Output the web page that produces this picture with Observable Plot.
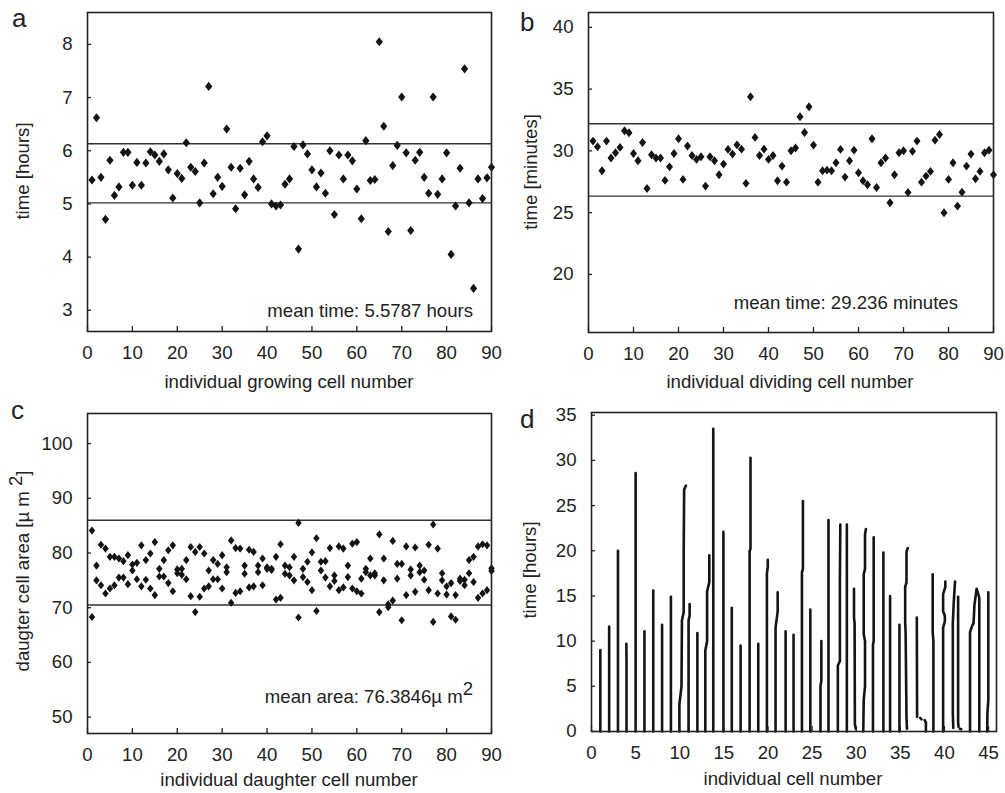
<!DOCTYPE html>
<html>
<head>
<meta charset="utf-8">
<script src="https://cdn.jsdelivr.net/npm/d3@7"></script>
<script src="https://cdn.jsdelivr.net/npm/@observablehq/plot@0.6"></script>
<style>
html, body { margin: 0; padding: 0; background: #fff; }
#root { position: relative; width: 1005px; height: 793px; overflow: hidden; font-family: "Liberation Sans", Arial, Helvetica, sans-serif; }
.panel { position: absolute; }
.panel svg { display: block; }
#overlay { position: absolute; left: 0; top: 0; pointer-events: none; }
</style>
</head>
<body>
<div id="root"></div>
<script>
// ---------------- DATA ----------------
// panel a: growth time per growing cell (hours), cells 1..90
const growingTimes = [
  5.45,6.62,5.50,4.71,5.82,5.16,5.32,5.97,5.97,5.35,
  5.78,5.35,5.77,5.98,5.92,5.80,5.94,5.64,5.11,5.57,
  5.48,6.15,5.69,5.61,5.02,5.77,7.21,5.19,5.50,5.33,
  6.41,5.69,4.91,5.67,5.17,5.80,5.47,5.31,6.17,6.28,
  5.00,4.96,4.98,5.37,5.47,6.08,4.15,6.11,5.94,5.64,
  5.32,5.58,5.20,6.00,4.80,5.92,5.47,5.92,5.81,5.28,
  4.72,6.19,5.44,5.46,8.05,6.46,4.48,5.72,6.10,7.01,
  5.96,4.50,5.82,5.97,5.50,5.20,7.01,5.18,5.47,5.96,
  4.05,4.96,5.67,7.54,5.02,3.41,5.47,5.10,5.49,5.69];
const growingLimits = [6.13, 5.02];

// panel b: division time per dividing cell (minutes), cells 1..90
const dividingTimes = [
  30.79,30.33,28.39,30.79,29.42,29.85,30.28,31.63,31.47,29.79,
  29.20,30.68,26.96,29.69,29.42,29.42,27.61,28.71,29.79,30.98,
  27.69,30.39,29.63,29.31,29.52,27.15,29.52,29.20,28.07,28.93,
  30.12,29.74,30.49,30.14,27.37,34.38,31.09,29.63,30.14,29.31,
  29.63,27.58,28.77,27.47,30.01,30.23,32.76,31.49,33.57,30.47,
  27.47,28.39,28.44,28.39,29.04,30.12,27.88,29.20,30.06,28.23,
  27.58,27.26,30.98,27.04,29.04,29.42,25.80,28.07,29.85,30.01,
  26.64,29.96,30.79,27.47,27.96,28.34,30.87,31.33,24.99,27.69,
  29.04,25.53,26.66,28.77,29.74,27.74,28.34,29.85,30.06,28.07];
const dividingLimits = [32.19, 26.34];

// panel c: two daughter cell areas (µm²) per division, 1..90
const daughterAreaFirst = [
  84.1,77.7,81.5,80.8,79.3,79.3,79.0,78.5,79.6,77.9,
  78.2,81.4,78.7,79.9,82.0,77.1,78.7,80.5,81.4,76.3,
  77.1,78.7,81.1,80.2,81.1,79.9,76.8,78.7,78.0,79.6,
  77.4,82.3,80.9,80.8,77.7,80.6,80.2,77.7,79.0,77.4,
  77.1,79.3,81.6,77.7,77.4,79.3,85.5,77.1,78.4,80.1,
  82.7,78.4,78.5,80.9,74.9,81.2,80.8,77.7,81.7,82.0,
  75.3,77.1,79.0,76.3,83.4,79.0,70.1,82.2,78.0,78.0,
  81.2,75.9,81.0,77.7,76.8,81.5,85.2,80.8,76.3,73.9,
  74.5,72.3,75.3,75.1,76.3,79.3,71.8,81.6,81.4,77.2];
const daughterAreaSecond = [
  68.3,75.0,74.1,72.6,73.5,74.1,75.5,75.5,74.3,76.8,
  75.2,73.9,75.1,73.5,72.3,75.7,75.7,74.5,73.0,77.0,
  76.0,75.2,72.1,69.2,72.0,73.5,73.9,75.2,75.2,73.5,
  76.5,70.9,72.7,73.0,76.2,73.7,73.9,76.5,74.1,77.1,
  76.9,71.5,71.8,76.2,75.9,75.0,68.2,75.6,74.7,73.2,
  69.4,76.8,75.5,73.9,75.9,73.2,73.7,75.6,73.5,73.0,
  72.6,76.5,75.9,75.9,69.2,75.0,70.6,71.3,75.3,67.7,
  72.3,77.0,72.9,76.5,75.1,73.2,67.4,72.6,75.0,72.4,
  68.4,67.8,74.9,74.1,78.7,74.7,81.2,72.6,73.2,76.7];
const areaLimits = [85.98, 70.49];

// panel d: lineage tracks, each a list of [cell position, time (hours)]
const cellTracks = [
  [[1,0],[1,9.0]],
  [[2,0],[2,11.6]],
  [[3,0],[3,20.0]],
  [[3.97,0],[3.97,7.5],[3.95,9.7]],
  [[5,0],[5,28.6]],
  [[6,0],[6,11.1]],
  [[7,0],[7,15.6]],
  [[8,0],[8,11.8]],
  [[9,0],[9,14.9]],
  [[9.96,0],[9.96,3.0],[10.2,5.0],[10.25,12.3],[10.45,13.2],[10.45,20],[10.5,26.8],[10.7,27.2]],
  [[11,0],[11,12.3],[11.12,12.8],[11.12,14.1]],
  [[12,0],[12,10.9]],
  [[12.9,0],[12.9,9.0],[13.1,10.0],[13.1,15.5],[13.35,16.5],[13.35,19.5]],
  [[13.8,0],[13.8,33.5]],
  [[14.95,0],[14.95,22.1]],
  [[15.9,0],[15.9,13.7]],
  [[16.9,0],[16.9,9.5]],
  [[17.92,0],[17.92,20],[18.02,20.2],[18.02,30.3]],
  [[18.9,0],[18.9,9.7]],
  [[19.88,0],[19.88,17.5],[19.98,18.2],[19.98,19.0]],
  [[20.86,0],[20.86,11.5],[21.1,13.3],[21.1,15.4]],
  [[22,0],[22,11.1]],
  [[22.9,0],[22.9,10.7]],
  [[23.85,0],[23.85,17.6],[23.96,18],[23.96,25.5]],
  [[24.8,0],[24.8,13.5]],
  [[25.95,0],[25.95,5],[26.05,5.6],[26.05,10.0]],
  [[26.86,0],[26.86,23.4]],
  [[27.92,0],[27.92,7.3],[28.15,7.8],[28.15,16.5],[28.2,22.9]],
  [[28.94,0],[28.94,22.9]],
  [[29.95,0.3],[29.85,0.8],[29.82,12.0],[29.75,12.6],[29.75,15.8]],
  [[30.8,0],[30.85,3.5],[31.0,5],[31.0,10],[30.85,10.8],[30.85,17.4],[31.0,18.0],[31.0,21.8],[31.1,22.4]],
  [[31.9,0],[31.9,9.6],[31.98,10],[31.98,21.5]],
  [[33.08,0],[33.08,19.8]],
  [[33.84,0],[33.84,15.0]],
  [[34.9,0],[34.9,11.8]],
  [[35.75,0.3],[35.7,1.5],[35.6,11],[35.55,12],[35.55,16],[35.7,16.5],[35.7,19.9],[35.85,20.3]],
  [[36.87,12.6],[36.9,1.6]],
  [[37.25,1.5],[37.4,1.35]],
  [[37.75,1.25],[37.9,1.0],[37.9,0]],
  [[38.75,0],[38.75,10],[38.67,11],[38.67,17.4]],
  [[39.85,0],[39.85,11.5],[40.05,12.2],[40.05,12.8],[39.85,13.3],[39.85,15.2],[40.1,16.0],[40.1,16.6]],
  [[41.0,0.4],[40.95,2],[40.95,12],[41.05,14.2],[41.2,16.6]],
  [[41.55,14.9],[41.55,1.0],[41.6,0.5]],
  [[41.75,0.3],[41.9,0.25]],
  [[42.9,0],[42.9,11.0],[43.1,11.6],[43.3,12.0],[43.4,14.0],[43.65,15.8],[43.95,14.8],[43.95,0]],
  [[44.85,0],[44.87,2.0],[44.97,3.5],[44.97,15.4]]
];

// tick labels
const ticks90 = [0,10,20,30,40,50,60,70,80,90];
const ticksA = [3,4,5,6,7,8];
const ticksB = [20,25,30,35,40];
const ticksC = [50,60,70,80,90,100];
const ticksDx = [0,5,10,15,20,25,30,35,40,45];
const ticksDy = [0,5,10,15,20,25,30,35];

// ---------------- RENDER ----------------
const FONT = '"Liberation Sans", Arial, Helvetica, sans-serif';
const INK = "#141414";
const root = document.getElementById("root");

const diamond = {
  draw(ctx, size) {
    const r = Math.sqrt(size / Math.PI);
    const h = r * 1.2, w = r * 0.95;
    ctx.moveTo(0, -h); ctx.lineTo(w, 0); ctx.lineTo(0, h); ctx.lineTo(-w, 0); ctx.closePath();
  }
};

function place(el, left, top) {
  const d = document.createElement("div");
  d.className = "panel";
  d.style.left = left + "px";
  d.style.top = top + "px";
  d.appendChild(el);
  root.appendChild(d);
}

function basePlot(opts, marks, xTicks, yTicks) {
  return Plot.plot({
    ...opts,
    style: { fontFamily: FONT, fontSize: "18.6px", color: "#222", background: "transparent", overflow: "visible" },
    marks: [
      ...marks,
      Plot.axisX({ ticks: xTicks, tickSize: -5, tickPadding: 19.5, label: null, strokeWidth: 1.3, tickFormat: d => String(d) }),
      Plot.axisY({ ticks: yTicks, tickSize: -4, tickPadding: 19, label: null, strokeWidth: 1.3, tickFormat: d => String(d) }),
      Plot.frame({ stroke: "#222", strokeWidth: 1.6 })
    ]
  });
}

const cells = growingTimes.map((_, i) => i + 1);

// panel a
place(basePlot(
  { width: 500, height: 400, marginLeft: 87, marginRight: 9, marginTop: 12, marginBottom: 69,
    x: { domain: [0, 90] }, y: { domain: [2.6, 8.6] } },
  [
    Plot.ruleY(growingLimits, { stroke: "#333", strokeWidth: 1.4 }),
    Plot.dot(growingTimes, { x: (d, i) => cells[i], y: d => d, symbol: diamond, r: 3.8, fill: INK, stroke: "none" })
  ], ticks90, ticksA), 0, 0);

// panel b
place(basePlot(
  { width: 505, height: 400, marginLeft: 88, marginRight: 12, marginTop: 12, marginBottom: 68,
    x: { domain: [0, 90] }, y: { domain: [15.3, 41.2] } },
  [
    Plot.ruleY(dividingLimits, { stroke: "#333", strokeWidth: 1.4 }),
    Plot.dot(dividingTimes, { x: (d, i) => cells[i], y: d => d, symbol: diamond, r: 3.7, fill: INK, stroke: "none" })
  ], ticks90, ticksB), 500, 0);

// panel c
const areaRows = [
  ...daughterAreaFirst.map((v, i) => ({ cell: i + 1, area: v })),
  ...daughterAreaSecond.map((v, i) => ({ cell: i + 1, area: v }))
];
place(basePlot(
  { width: 500, height: 393, marginLeft: 87, marginRight: 9, marginTop: 13, marginBottom: 60,
    x: { domain: [0, 90] }, y: { domain: [47, 105.5] } },
  [
    Plot.ruleY(areaLimits, { stroke: "#333", strokeWidth: 1.4 }),
    Plot.dot(areaRows, { x: "cell", y: "area", symbol: diamond, r: 3.4, fill: INK, stroke: "none" })
  ], ticks90, ticksC), 0, 400);

// panel d
const trackRows = cellTracks.flatMap((tr, k) => tr.map(([x, t]) => ({ track: k, x, t })));
place(basePlot(
  { width: 505, height: 393, marginLeft: 91, marginRight: 9, marginTop: 12, marginBottom: 62,
    x: { domain: [0, 45.9] }, y: { domain: [0, 35.3] } },
  [
    Plot.line(trackRows, { x: "x", y: "t", z: "track", stroke: INK, strokeWidth: 2.6, strokeLinejoin: "round" })
  ], ticksDx, ticksDy), 500, 400);

// overlay text
const svg = d3.create("svg").attr("id", "overlay").attr("width", 1005).attr("height", 793)
  .attr("font-family", FONT).attr("fill", "#222");

function txt(x, y, s, size, anchor, rot) {
  const t = svg.append("text").attr("font-size", size).attr("text-anchor", anchor || "start");
  if (rot) t.attr("transform", `translate(${x},${y}) rotate(-90)`);
  else t.attr("x", x).attr("y", y);
  t.text(s);
  return t;
}
// panel letters
txt(12, 27, "a", 26);
txt(520, 31, "b", 26);
txt(11, 419, "c", 26);
txt(520, 428, "d", 26);
// x titles
txt(289, 388, "individual growing cell number", 18.6, "middle");
txt(790, 388, "individual dividing cell number", 18.6, "middle");
txt(289, 786, "individual daughter cell number", 18.6, "middle");
txt(793, 785, "individual cell number", 18.6, "middle");
// y titles
txt(29, 171, "time [hours]", 18.6, "middle", true);
txt(537, 172, "time [minutes]", 18.6, "middle", true);
{
  const t = svg.append("text").attr("font-size", 18.6).attr("text-anchor", "middle")
    .attr("transform", "translate(29,571) rotate(-90)");
  t.append("tspan").text("daugter cell area [µ m ");
  t.append("tspan").attr("dy", -7).text("2");
  t.append("tspan").attr("dy", 7).text("]");
}
txt(536, 570, "time [hours]", 18.6, "middle", true);
// mean annotations
txt(473, 317, "mean time: 5.5787 hours", 18.6, "end");
txt(958, 309, "mean time: 29.236 minutes", 18.6, "end");
{
  const t = svg.append("text").attr("font-size", 18.6).attr("text-anchor", "end")
    .attr("x", 473).attr("y", 703);
  t.append("tspan").text("mean area: 76.3846µ m");
  t.append("tspan").attr("dy", -8).text("2");
}
root.appendChild(svg.node());
</script>
</body>
</html>
